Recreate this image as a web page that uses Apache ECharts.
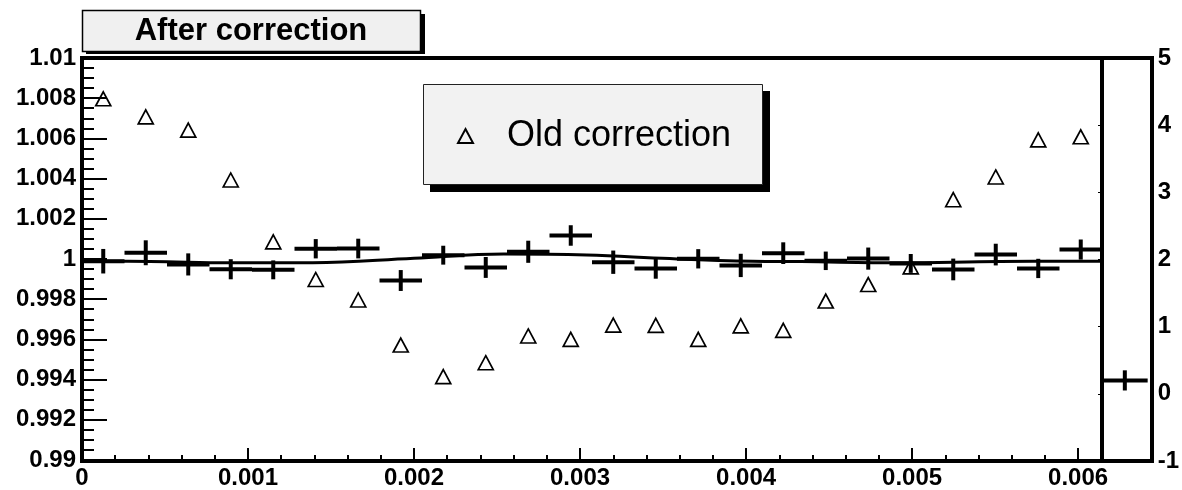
<!DOCTYPE html>
<html>
<head>
<meta charset="utf-8">
<script src="https://cdn.jsdelivr.net/npm/echarts@6/dist/echarts.min.js"></script>
<style>
html,body{margin:0;padding:0;background:#fff;}
#chart{width:1182px;height:490px;}
</style>
</head>
<body>
<div id="chart"></div>
<script>
// ---- data ----
const titleText = 'After correction';
const legendName = 'Old correction';
const xMin = 0;
const xMax = 0.006144;
const binHalfWidth = 0.000128;
const binCenters = [0.000128, 0.000384, 0.00064, 0.000896, 0.001152, 0.001408, 0.001664, 0.00192,
  0.002176, 0.002432, 0.002688, 0.002944, 0.0032, 0.003456, 0.003712, 0.003968,
  0.004224, 0.00448, 0.004736, 0.004992, 0.005248, 0.005504, 0.00576, 0.006016];
// "after correction" histogram (crosses with error bars)
const afterValues = [0.99989, 1.00031, 0.99973, 0.99949, 0.99946, 1.00051, 1.00052, 0.99893,
  1.00019, 0.99958, 1.00036, 1.00117, 0.99984, 0.99953, 1.00001, 0.99968,
  1.00029, 0.99991, 1.00002, 0.99978, 0.99948, 1.00022, 0.99953, 1.00047];
const afterErrors = [0.00061, 0.00062, 0.00055, 0.0005, 0.00047, 0.00048, 0.00049, 0.00052,
  0.00047, 0.00052, 0.00055, 0.00051, 0.00058, 0.00051, 0.00048, 0.00058,
  0.00054, 0.00046, 0.00055, 0.00047, 0.00054, 0.00054, 0.00048, 0.0005];
// "old correction" points (open triangles)
const oldValues = [1.00797, 1.00707, 1.00641, 1.00393, 1.00085, 0.99898, 0.99796, 0.99572,
  0.99415, 0.99484, 0.99617, 0.996, 0.99671, 0.9967, 0.996, 0.99667,
  0.99645, 0.99791, 0.99873, 0.99961, 1.00295, 1.00408, 1.00593, 1.00608];
// fitted curve
const fitX = [0, 0.00041, 0.00089, 0.00139, 0.002, 0.00254, 0.00304, 0.00354, 0.00404, 0.00433, 0.00493, 0.00553, 0.006144];
const fitY = [0.99989, 0.99988, 0.99981, 0.99981, 1.00004, 1.00025, 1.0002, 1.00002, 0.99989, 0.99987, 0.99981, 0.99988, 0.99989];
// side panel (right axis)
const sideValue = 0.2;
const sideError = 0.15;
const sideHalfWidth = 0.5;
const yLeftMin = 0.99, yLeftMax = 1.01, yLeftStep = 0.002;
const yRightMin = -1, yRightMax = 5, yRightStep = 1;
const xStep = 0.001, xMinorStep = 0.0002;

// ---- layout ----
const MAIN = {left: 82, top: 58, width: 1020, height: 403};
const SIDE = {left: 1102, top: 58, width: 50, height: 403};
const FRAME_W = 4;

// ---- chart ----
const FONT = '"Liberation Sans", Arial, Helvetica, sans-serif';
const labelStyle = {fontFamily: FONT, fontWeight: 'bold', fontSize: 24, color: '#000'};
const chart = echarts.init(document.getElementById('chart'), null, {renderer: 'canvas'});

const crossData = binCenters.map((x, i) => [x, afterValues[i], afterErrors[i], binHalfWidth]);
const oldData = binCenters.map((x, i) => [x, oldValues[i]]);
const fitData = fitX.map((x, i) => [x, fitY[i]]);
const sideData = [[0.5, sideValue, sideError, sideHalfWidth]];

function renderCross(params, api) {
  const x = api.value(0), y = api.value(1), e = api.value(2), hw = api.value(3);
  const pL = api.coord([x - hw, y]);
  const pR = api.coord([x + hw, y]);
  const pT = api.coord([x, y + e]);
  const pB = api.coord([x, y - e]);
  const st = {stroke: '#000', lineWidth: 4, fill: null};
  return {
    type: 'group',
    children: [
      {type: 'line', shape: {x1: pL[0], y1: pL[1], x2: pR[0], y2: pR[1]}, style: st},
      {type: 'line', shape: {x1: pT[0], y1: pT[1], x2: pB[0], y2: pB[1]}, style: st}
    ]
  };
}

function fmtNum(v) { return String(+v.toFixed(4)); }

const option = {
  animation: false,
  backgroundColor: '#fff',
  grid: [
    Object.assign({show: false}, MAIN),
    Object.assign({show: false}, SIDE)
  ],
  xAxis: [
    {
      type: 'value', gridIndex: 0, min: xMin, max: xMax, interval: xStep, position: 'bottom',
      axisLine: {show: false},
      axisTick: {show: true, inside: true, length: 12, lineStyle: {color: '#000', width: 2}},
      splitLine: {show: false},
      axisLabel: Object.assign({margin: 6, showMaxLabel: true,
        formatter: v => (Math.abs(v / xStep - Math.round(v / xStep)) < 1e-6 ? fmtNum(v) : '')}, labelStyle)
    },
    {
      type: 'value', gridIndex: 0, min: xMin, max: xMax, interval: xMinorStep, position: 'bottom',
      axisLine: {show: false},
      axisTick: {show: true, inside: true, length: 5, lineStyle: {color: '#000', width: 2}},
      splitLine: {show: false},
      axisLabel: {show: false}
    },
    {
      type: 'value', gridIndex: 1, min: 0, max: 1, show: false
    }
  ],
  yAxis: [
    {
      type: 'value', gridIndex: 0, min: yLeftMin, max: yLeftMax, interval: yLeftStep, position: 'left',
      axisLine: {show: false},
      axisTick: {show: true, inside: true, length: 25, lineStyle: {color: '#000', width: 2}},
      minorTick: {show: true, splitNumber: 4, length: 12, lineStyle: {color: '#000', width: 2}},
      splitLine: {show: false},
      minorSplitLine: {show: false},
      axisLabel: Object.assign({margin: 6, formatter: fmtNum}, labelStyle)
    },
    {
      type: 'value', gridIndex: 1, min: yRightMin, max: yRightMax, interval: yRightStep, position: 'right',
      axisLine: {show: false},
      axisTick: {show: true, inside: true, length: 4, lineStyle: {color: '#000', width: 1}},
      splitLine: {show: false},
      axisLabel: Object.assign({margin: 10, formatter: v => String(v)}, labelStyle)
    }
  ],
  legend: {
    show: true,
    left: 457, top: 115,
    padding: 0,
    itemWidth: 15, itemHeight: 14,
    data: [legendName],
    textStyle: {fontFamily: FONT, fontSize: 36, color: '#000', padding: [0, 0, 0, 29], lineHeight: 42},
    selectedMode: false
  },
  graphic: [
    // plot frames
    {type: 'rect', z: 90, silent: true, shape: {x: MAIN.left, y: MAIN.top, width: MAIN.width, height: MAIN.height},
      style: {fill: null, stroke: '#000', lineWidth: FRAME_W}},
    {type: 'rect', z: 90, silent: true, shape: {x: SIDE.left, y: SIDE.top, width: SIDE.width, height: SIDE.height},
      style: {fill: null, stroke: '#000', lineWidth: FRAME_W}},
    // title box
    {type: 'rect', z: 100, shape: {x: 86, y: 14, width: 339, height: 40}, style: {fill: '#000'}},
    {type: 'rect', z: 101, shape: {x: 82.5, y: 10.5, width: 338, height: 41}, style: {fill: '#f0f0f0', stroke: '#000', lineWidth: 1.5}},
    {type: 'text', z: 102, x: 251, y: 31, style: {text: titleText, fontFamily: FONT, fontWeight: 'bold', fontSize: 31, fill: '#000', align: 'center', verticalAlign: 'middle'}},
    // legend box
    {type: 'rect', z: 1, shape: {x: 430, y: 91, width: 340, height: 101}, style: {fill: '#000'}},
    {type: 'rect', z: 2, shape: {x: 423.5, y: 84.5, width: 339, height: 100}, style: {fill: '#f2f2f2', stroke: '#222', lineWidth: 1}}
  ],
  series: [
    {
      name: 'Fit', type: 'line', xAxisIndex: 0, yAxisIndex: 0, data: fitData,
      smooth: 0.4, showSymbol: false, symbol: 'none',
      lineStyle: {color: '#000', width: 3}, z: 3, silent: true
    },
    {
      name: 'After correction', type: 'custom', xAxisIndex: 0, yAxisIndex: 0,
      data: crossData, renderItem: renderCross, encode: {x: 0, y: 1}, z: 4, silent: true
    },
    {
      name: legendName, type: 'scatter', xAxisIndex: 0, yAxisIndex: 0, data: oldData,
      symbol: 'triangle', symbolSize: [15, 14],
      itemStyle: {color: 'transparent', borderColor: '#000', borderWidth: 1.7, opacity: 1},
      z: 5, silent: true
    },
    {
      name: 'Side', type: 'custom', xAxisIndex: 2, yAxisIndex: 1,
      data: sideData, renderItem: renderCross, encode: {x: 0, y: 1}, z: 4, silent: true
    }
  ]
};
chart.setOption(option);
</script>
</body>
</html>
